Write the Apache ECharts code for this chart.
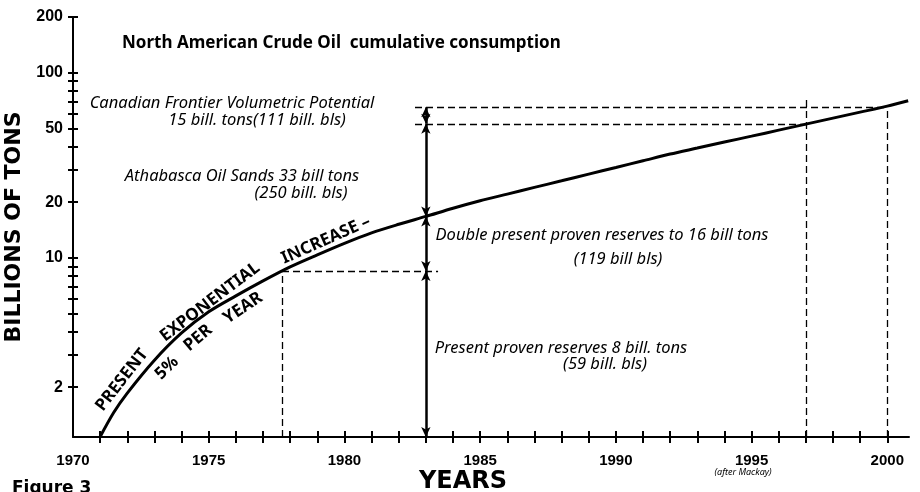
<!DOCTYPE html>
<html>
<head>
<meta charset="utf-8">
<script src="https://cdn.jsdelivr.net/npm/echarts@6/dist/echarts.min.js"></script>
<style>
html, body { margin: 0; padding: 0; background: #fff; }
#chart { width: 920px; height: 492px; }
</style>
</head>
<body>
<div id="chart"></div>
<script>
// Cumulative consumption curve (billions of tons)
var years = [1971, 1971.5, 1972, 1973, 1974, 1975, 1976, 1977, 1978, 1979, 1980, 1981, 1982, 1983, 1984, 1985,
    1986, 1987, 1988, 1989, 1990, 1991, 1992, 1993, 1994, 1995, 1996, 1997, 1998, 1999, 2000, 2000.77];
var consumption = [1.08, 1.46, 1.86, 2.80, 3.93, 5.11, 6.23, 7.51, 8.94, 10.38, 11.98, 13.65, 15.18, 16.74, 18.52, 20.33,
    22.10, 24.02, 26.08, 28.34, 30.77, 33.44, 36.35, 39.17, 42.21, 45.43, 48.95, 52.76, 56.83, 61.24, 66.01, 70.56];

// axis ticks / labels
var yLabelValues = [2, 10, 20, 50, 100, 200];
var yTickValues = [2, 3, 4, 5, 6, 7, 8, 9, 10, 20, 30, 40, 50, 60, 70, 80, 90, 100, 200];
var xLabelValues = [1970, 1975, 1980, 1985, 1990, 1995, 2000];
var xTickValues = [1971, 1972, 1973, 1974, 1975, 1976, 1977, 1978, 1979, 1980, 1981, 1982, 1983, 1984, 1985,
    1986, 1987, 1988, 1989, 1990, 1991, 1992, 1993, 1994, 1995, 1996, 1997, 1998, 1999, 2000];
var yMin = 1.077, yMax = 200;
var xMin = 1970, xMax = 2000.8;

// the stacked arrows at 1983 and the dashed guides
var arrowYear = 1983;
var arrowLevels = [1.077, 8.5, 16.7, 53, 65];
var reserveYear = 1977.7, reserveLevel = 8.5;
var guideYears = [1997, 2000];
var guideLevels = [53, 65];
var guideTops = [72, 65];
var guideStart = 1982.6;

var chart = echarts.init(document.getElementById('chart'));

var arrowData = [];
for (var i = 0; i < arrowLevels.length - 1; i++) {
    arrowData.push([{coord: [arrowYear, arrowLevels[i]]}, {coord: [arrowYear, arrowLevels[i + 1]]}]);
}

var dashData = [
    [{coord: [reserveYear, yMin]}, {coord: [reserveYear, reserveLevel]}],
    [{coord: [reserveYear, reserveLevel]}, {coord: [arrowYear + 0.45, reserveLevel]}],
    [{coord: [guideStart, guideLevels[0]]}, {coord: [guideYears[0], guideLevels[0]]}],
    [{coord: [guideStart, guideLevels[1]]}, {coord: [guideYears[1], guideLevels[1]]}],
    [{coord: [guideYears[0], yMin]}, {coord: [guideYears[0], guideTops[0]]}],
    [{coord: [guideYears[1], yMin]}, {coord: [guideYears[1], guideTops[1]]}]
];

var italic = {fontFamily: 'Noto Sans', fontStyle: 'italic', fontSize: 16.5, fill: '#000'};
function note(x, y, text) {
    return {type: 'text', x: x, y: y, style: Object.assign({text: text, textAlign: 'center', textVerticalAlign: 'middle'}, italic)};
}
function curveWord(x, y, deg, text) {
    return {type: 'text', x: x, y: y, rotation: deg * Math.PI / 180,
        style: {text: text, textAlign: 'center', textVerticalAlign: 'middle', fontFamily: 'Noto Sans',
            fontWeight: 'bold', fontSize: 17, fill: '#000'}};
}
function yearLabel(v) { return String(v); }

var option = {
    animation: false,
    backgroundColor: '#fff',
    title: {
        text: 'North American Crude Oil  cumulative consumption',
        left: 122,
        top: 35,
        padding: 0,
        textStyle: {fontFamily: 'Noto Sans', fontWeight: 'bold', fontSize: 17, color: '#000'}
    },
    grid: {left: 73, right: 11, top: 17, bottom: 55, outerBoundsMode: 'none'},
    xAxis: [
        {
            type: 'value', min: xMin, max: xMax, position: 'bottom',
            splitLine: {show: false},
            axisLine: {lineStyle: {color: '#000', width: 2}},
            axisTick: {customValues: xTickValues, length: 6, lineStyle: {color: '#000', width: 2}},
            axisLabel: {customValues: xLabelValues, formatter: yearLabel, margin: 16, color: '#000',
                fontFamily: 'Liberation Sans', fontWeight: 'bold', fontSize: 15}
        },
        {
            type: 'value', min: xMin, max: xMax, position: 'bottom', offset: 0,
            splitLine: {show: false},
            axisLine: {show: false},
            axisTick: {customValues: xTickValues, inside: true, length: 6, lineStyle: {color: '#000', width: 2}},
            axisLabel: {show: false}
        }
    ],
    yAxis: [
        {
            type: 'log', logBase: 10, min: yMin, max: yMax, position: 'left',
            name: 'BILLIONS OF TONS', nameLocation: 'middle', nameRotate: 90, nameGap: 38,
            nameTextStyle: {fontFamily: 'DejaVu Sans', fontWeight: 'bold', fontSize: 22, color: '#000'},
            splitLine: {show: false},
            axisLine: {lineStyle: {color: '#000', width: 2}},
            axisTick: {customValues: yTickValues, length: 5, lineStyle: {color: '#000', width: 2}},
            axisLabel: {customValues: yLabelValues, margin: 10, color: '#000', fontFamily: 'Liberation Sans',
                fontWeight: 'bold', fontSize: 16}
        },
        {
            type: 'log', logBase: 10, min: yMin, max: yMax, position: 'left', offset: 0,
            splitLine: {show: false},
            axisLine: {show: false},
            axisTick: {customValues: yTickValues, inside: true, length: 5, lineStyle: {color: '#000', width: 2}},
            axisLabel: {show: false}
        }
    ],
    series: [
        {
            type: 'line',
            data: years.map(function (y, i) { return [y, consumption[i]]; }),
            smooth: 0.3,
            showSymbol: false,
            lineStyle: {color: '#000', width: 3},
            z: 5,
            markLine: {
                silent: true,
                symbol: ['arrow', 'arrow'],
                symbolSize: [7, 10],
                label: {show: false},
                lineStyle: {color: '#000', width: 2.5, type: 'solid'},
                data: arrowData
            }
        },
        {
            type: 'line',
            data: [],
            markLine: {
                silent: true,
                symbol: ['none', 'none'],
                label: {show: false},
                lineStyle: {color: '#000', width: 1.3, type: [7, 4]},
                data: dashData
            }
        }
    ],
    graphic: [
        note(232, 103, 'Canadian Frontier Volumetric Potential'),
        note(257, 120, '15 bill. tons(111 bill. bls)'),
        note(242, 176, 'Athabasca Oil Sands 33 bill tons'),
        note(301, 193, '(250 bill. bls)'),
        note(602, 235, 'Double present proven reserves to 16 bill tons'),
        note(618, 259, '(119 bill bls)'),
        note(561, 348, 'Present proven reserves 8 bill. tons'),
        note(605, 364, '(59 bill. bls)'),
        {type: 'text', x: 743, y: 472, style: {text: '(after Mackay)', textAlign: 'center', textVerticalAlign: 'middle',
            fontFamily: 'Noto Sans', fontStyle: 'italic', fontSize: 9, fill: '#000'}},
        {type: 'text', x: 463, y: 482, style: {text: 'YEARS', textAlign: 'center', textVerticalAlign: 'middle',
            fontFamily: 'DejaVu Sans', fontWeight: 'bold', fontSize: 24, fill: '#000'}},
        {type: 'text', x: 12, y: 480, style: {text: 'Figure 3', textAlign: 'left', textVerticalAlign: 'top',
            fontFamily: 'DejaVu Sans', fontWeight: 'bold', fontSize: 17, fill: '#000'}},
        curveWord(122, 380, 52, 'PRESENT'),
        curveWord(210, 302, 37, 'EXPONENTIAL'),
        curveWord(326, 240, 24, 'INCREASE \u2013'),
        curveWord(167, 368, 44, '5%'),
        curveWord(198, 338, 40, 'PER'),
        curveWord(243, 308, 34, 'YEAR')
    ]
};

chart.setOption(option);
</script>
</body>
</html>
